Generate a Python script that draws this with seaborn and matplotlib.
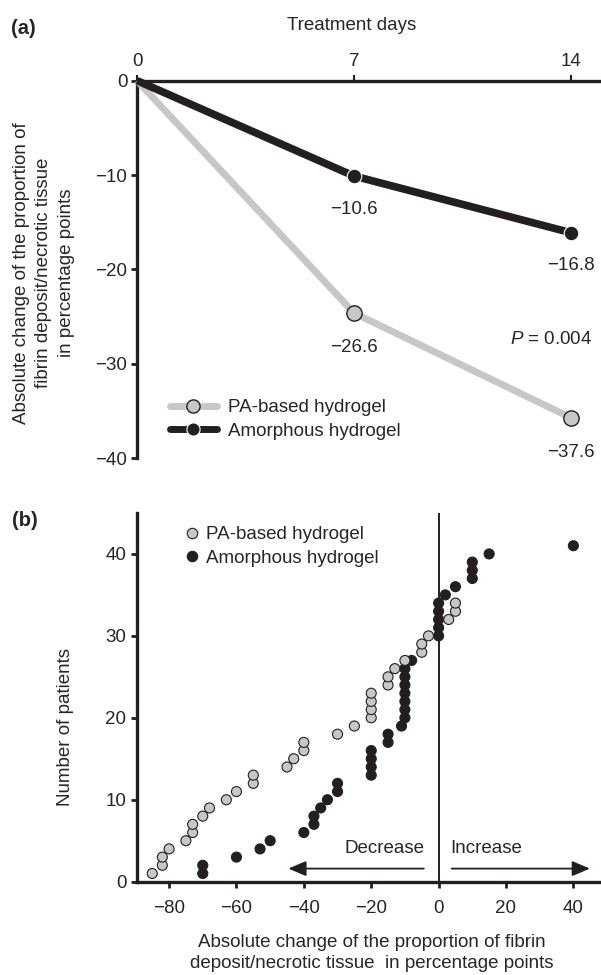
import pandas as pd
import matplotlib
matplotlib.use("Agg")
import matplotlib.pyplot as plt
from matplotlib.lines import Line2D
import seaborn as sns

sns.set_style("ticks")
plt.rcParams["font.family"] = ["Liberation Sans", "DejaVu Sans"]
plt.rcParams["mathtext.fontset"] = "custom"
plt.rcParams["mathtext.rm"] = "Liberation Sans"
plt.rcParams["mathtext.it"] = "Liberation Sans:italic"

DARK = "#231f20"
GREY = "#c6c7c9"
FS = 13.5

# panel (a): mean change per treatment day
days = [0, 7, 14]
pa_change = [0, -24.6, -35.7]
amorph_change = [0, -10.1, -16.1]
pa_reported = [-26.6, -37.6]
amorph_reported = [-10.6, -16.8]
a_yticks = [0, -10, -20, -30, -40]

# panel (b): change per patient, ranked
pa_x = [-85, -82, -82, -80, -75, -73, -73, -70, -68, -63, -60, -55, -55,
        -45, -43, -40, -40, -30, -25, -20, -20, -20, -20, -15, -15, -13,
        -10, -5, -5, -3, 3, 5, 5]
pa_n = [1, 2, 3, 4, 5, 6, 7, 8, 9, 10, 11, 12, 13, 14, 15, 16, 17, 18, 19,
        20, 21, 22, 23, 24, 25, 26, 27, 28, 29, 30, 32, 33, 34]
am_x = [-70, -70, -60, -53, -50, -40, -37, -37, -35, -33, -30, -30, -20,
        -20, -20, -20, -15, -15, -11, -10, -10, -10, -10, -10, -10, -10,
        -8, 0, 0, 0, 0, 0, 2, 5, 10, 10, 10, 15, 40]
am_n = [1, 2, 3, 4, 5, 6, 7, 8, 9, 10, 11, 12, 13, 14, 15, 16, 17, 18, 19,
        20, 21, 22, 23, 24, 25, 26, 27, 30, 31, 32, 33, 34, 35, 36, 37, 38,
        39, 40, 41]
b_xticks = [-80, -60, -40, -20, 0, 20, 40]
b_yticks = [0, 10, 20, 30, 40]

PA = "PA-based hydrogel"
AM = "Amorphous hydrogel"

fig = plt.figure(figsize=(6.01, 9.75), dpi=100)

# ---------------- panel (a)
ax1 = fig.add_axes([0.228, 0.53, 0.772, 0.3873])
df_a = pd.DataFrame({"day": days, "pa": pa_change, "am": amorph_change})

sns.lineplot(data=df_a, x="day", y="pa", ax=ax1, color=GREY, lw=5,
             marker="o", markevery=[1, 2], markersize=11,
             markerfacecolor=GREY, markeredgecolor=DARK, markeredgewidth=1,
             solid_capstyle="butt", clip_on=False, zorder=3)
sns.lineplot(data=df_a, x="day", y="am", ax=ax1, color=DARK, lw=5.5,
             marker="o", markevery=[1, 2], markersize=10.5,
             markerfacecolor=DARK, markeredgecolor="white", markeredgewidth=0.8,
             solid_capstyle="butt", clip_on=False, zorder=4)

for d, v, r in zip(days[1:], pa_change[1:], pa_reported):
    ax1.annotate(f"{r:.1f}".replace("-", "\u2212"), (d, v), xytext=(0, -25),
                 textcoords="offset points", ha="center", va="center", fontsize=FS)
for d, v, r in zip(days[1:], amorph_change[1:], amorph_reported):
    ax1.annotate(f"{r:.1f}".replace("-", "\u2212"), (d, v), xytext=(0, -24),
                 textcoords="offset points", ha="center", va="center", fontsize=FS)

ax1.text(14.69, -27.4, "$P$ = 0.004", ha="right", va="center", fontsize=FS)

ax1.set_xlim(0, 14.98)
ax1.set_ylim(-40, 0)
ax1.set_xticks(days)
ax1.set_yticks(a_yticks)
ax1.xaxis.tick_top()
ax1.xaxis.set_label_position("top")
ax1.tick_params(axis="x", top=True, bottom=False, labeltop=True, labelbottom=False,
                length=4, width=1.5, pad=4, labelsize=FS, color=DARK)
ax1.tick_params(axis="y", length=4, width=2, pad=3, labelsize=FS, color=DARK)
for s in ["bottom", "right"]:
    ax1.spines[s].set_visible(False)
for s in ["top", "left"]:
    ax1.spines[s].set_linewidth(2.4)
    ax1.spines[s].set_color(DARK)

ax1.set_xlabel("Treatment days", fontsize=FS)
ax1.xaxis.set_label_coords(0.462, 1.146)
ax1.xaxis.label.set_va("center")
ax1.set_ylabel("Absolute change of the proportion of\nfibrin deposit/necrotic tissue\nin percentage points",
               fontsize=FS, linespacing=1.42)
ax1.yaxis.set_label_coords(-0.134, 0.49)

handles_a = [
    Line2D([], [], color=GREY, lw=5, marker="o", ms=9.5, mfc=GREY, mec=DARK, mew=1),
    Line2D([], [], color=DARK, lw=5, marker="o", ms=9.5, mfc=DARK, mec="white", mew=0.8),
]
ax1.legend(handles_a, [PA, AM], loc="upper left", bbox_to_anchor=(170 / 601, 1 - 399 / 975),
           bbox_transform=fig.transFigure, frameon=False, handlelength=2.5,
           handletextpad=0.59, borderpad=0, borderaxespad=0, labelspacing=0.35,
           fontsize=FS)

# ---------------- panel (b)
ax2 = fig.add_axes([0.2275, 0.0957, 0.7725, 0.3782])
df_b = pd.DataFrame({
    "change": am_x + pa_x,
    "patients": am_n + pa_n,
    "group": [AM] * len(am_x) + [PA] * len(pa_x),
})
sns.scatterplot(data=df_b, x="change", y="patients", hue="group",
                palette={PA: GREY, AM: DARK}, s=52, edgecolor=DARK,
                linewidth=0.8, legend=False, ax=ax2, clip_on=False, zorder=3)

ax2.axvline(0, color=DARK, lw=1.4, zorder=2)

arrow = dict(arrowstyle="-|>,head_length=0.4,head_width=0.17", color=DARK, lw=1.3,
             mutation_scale=27, shrinkA=0, shrinkB=0)
ax2.annotate("", xy=(-44.6, 1.6), xytext=(-4.4, 1.6), arrowprops=arrow)
ax2.annotate("", xy=(44.9, 1.6), xytext=(3.9, 1.6), arrowprops=arrow)
ax2.text(-4.1, 4.1, "Decrease", ha="right", va="center", fontsize=FS)
ax2.text(3.4, 4.1, "Increase", ha="left", va="center", fontsize=FS)

ax2.set_xlim(-89.6, 48.2)
ax2.set_ylim(0, 45)
ax2.set_xticks(b_xticks)
ax2.set_yticks(b_yticks)
ax2.tick_params(axis="both", length=4.5, width=2, labelsize=FS, color=DARK)
ax2.tick_params(axis="x", pad=9)
ax2.tick_params(axis="y", pad=3)
for s in ["top", "right"]:
    ax2.spines[s].set_visible(False)
for s in ["bottom", "left"]:
    ax2.spines[s].set_linewidth(2.4)
    ax2.spines[s].set_color(DARK)

ax2.set_xlabel("Absolute change of the proportion of fibrin\ndeposit/necrotic tissue  in percentage points",
               fontsize=FS, linespacing=1.25)
ax2.xaxis.set_label_coords(0.506, -0.143)
ax2.set_ylabel("Number of patients", fontsize=FS)
ax2.yaxis.set_label_coords(-0.135, 0.42)

handles_b = [
    Line2D([], [], ls="none", marker="o", ms=7.5, mfc=GREY, mec=DARK, mew=0.8),
    Line2D([], [], ls="none", marker="o", ms=7.5, mfc=DARK, mec=DARK, mew=0.8),
]
ax2.legend(handles_b, [PA, AM], loc="upper left", bbox_to_anchor=(185 / 601, 1 - 526 / 975),
           bbox_transform=fig.transFigure, frameon=False, handlelength=0.71,
           handletextpad=0.41, borderpad=0, borderaxespad=0, labelspacing=0.35,
           fontsize=FS)

fig.text(23 / 601, 1 - 28 / 975, "(a)", fontsize=14.5, fontweight="bold", ha="center", va="center")
fig.text(25 / 601, 1 - 520 / 975, "(b)", fontsize=14.5, fontweight="bold", ha="center", va="center")

fig.savefig("out.png", dpi=100)
